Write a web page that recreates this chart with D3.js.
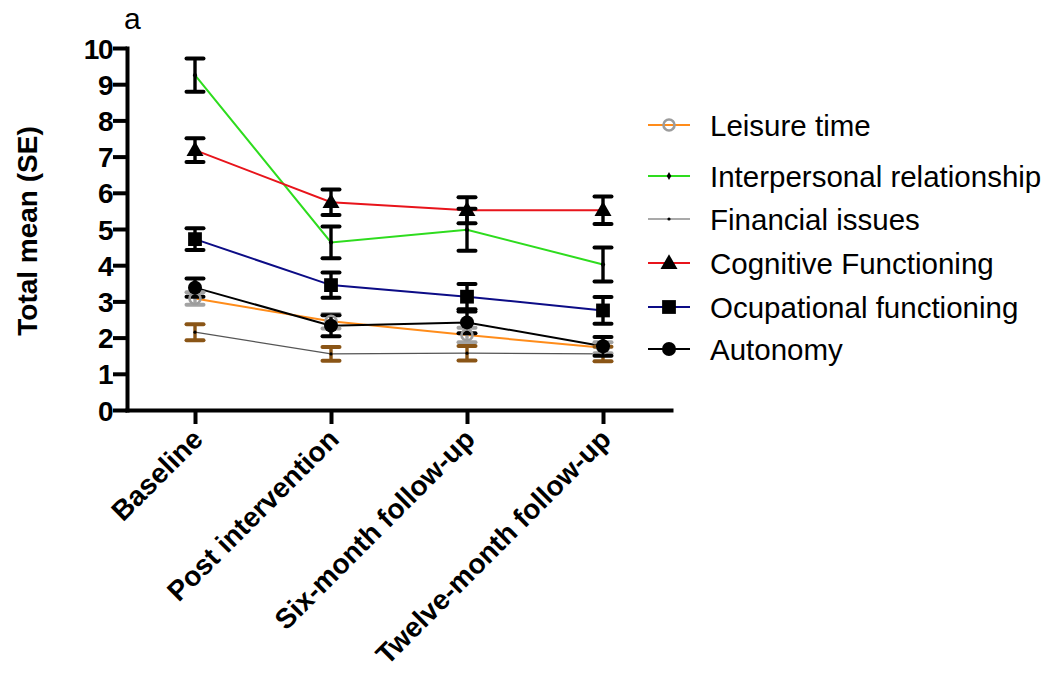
<!DOCTYPE html>
<html>
<head>
<meta charset="utf-8">
<script src="https://cdn.jsdelivr.net/npm/d3@7"></script>
<style>
  body { margin: 0; background: #fff; }
  text { font-family: "Liberation Sans", Arial, sans-serif; }
</style>
</head>
<body>
<svg id="chart" width="1053" height="677"></svg>
<script>
// ---- data ----
var categories = ["Baseline", "Post intervention", "Six-month follow-up", "Twelve-month follow-up"];
var yTicks = [0, 1, 2, 3, 4, 5, 6, 7, 8, 9, 10];

var seriesNames = ["Leisure time", "Interpersonal relationship", "Financial issues",
                   "Cognitive Functioning", "Ocupational functioning", "Autonomy"];

var leisureMean  = [3.08, 2.45, 2.07, 1.72];
var leisureSE    = [0.17, 0.20, 0.20, 0.15];
var interMean    = [9.25, 4.63, 4.98, 4.02];
var interSE      = [0.46, 0.44, 0.58, 0.47];
var financeMean  = [2.15, 1.55, 1.57, 1.55];
var financeSE    = [0.22, 0.19, 0.20, 0.20];
var cogMean      = [7.18, 5.74, 5.52, 5.52];
var cogSE        = [0.33, 0.35, 0.36, 0.38];
var occMean      = [4.72, 3.45, 3.13, 2.75];
var occSE        = [0.30, 0.35, 0.35, 0.37];
var autMean      = [3.38, 2.33, 2.42, 1.76];
var autSE        = [0.25, 0.29, 0.30, 0.26];

// styling per series
var styles = [
  {line: "#ff8c1a", width: 2,   err: "#a3a3a3", marker: "openCircle"},
  {line: "#2edc1e", width: 2,   err: "#000",    marker: "diamond"},
  {line: "#555",    width: 1.2, err: "#8a5516", marker: "dot"},
  {line: "#e8141b", width: 2,   err: "#000",    marker: "triangle"},
  {line: "#0c0c86", width: 2,   err: "#000",    marker: "square"},
  {line: "#000",    width: 2,   err: "#000",    marker: "circle"}
];

var means = [leisureMean, interMean, financeMean, cogMean, occMean, autMean];
var ses   = [leisureSE, interSE, financeSE, cogSE, occSE, autSE];

var series = seriesNames.map(function(name, i) {
  return {
    name: name, style: styles[i],
    values: categories.map(function(c, j) { return {cat: c, mean: means[i][j], se: ses[i][j]}; })
  };
});

// ---- layout ----
var svg = d3.select("#chart");
var x = d3.scalePoint().domain(categories).range([127, 671]).padding(0.5);
var y = d3.scaleLinear().domain([0, 10]).range([410, 48]);

// y axis
var yAxis = svg.append("g")
  .attr("transform", "translate(127,0)")
  .call(d3.axisLeft(y).tickValues(yTicks).tickSize(14).tickSizeOuter(0).tickPadding(1));
yAxis.select(".domain").attr("stroke-width", 4).attr("stroke-linecap", "square");
yAxis.selectAll(".tick line").attr("stroke-width", 4);
yAxis.selectAll(".tick text")
  .attr("font-size", 28).attr("font-weight", "bold").attr("fill", "#000")
  .attr("dy", "0.36em").style("letter-spacing", "-1.5px");

// x axis
var xAxis = svg.append("g")
  .attr("transform", "translate(0,410)")
  .call(d3.axisBottom(x).tickSize(14).tickSizeOuter(0));
xAxis.select(".domain").attr("stroke-width", 4).attr("stroke-linecap", "square");
xAxis.selectAll(".tick line").attr("stroke-width", 4);
xAxis.selectAll(".tick text").remove();
xAxis.selectAll(".tick").append("text")
  .attr("transform", "translate(9,31) rotate(-45)")
  .attr("text-anchor", "end")
  .attr("font-size", 28).attr("font-weight", "bold").attr("fill", "#000")
  .text(function(d) { return d; });

// y title
svg.append("text")
  .attr("transform", "translate(37,231) rotate(-90)")
  .attr("text-anchor", "middle")
  .attr("font-size", 28).attr("font-weight", "bold")
  .text("Total mean (SE)");

// panel letter
svg.append("text").attr("x", 124).attr("y", 29).attr("font-size", 30).text("a");

// ---- lines ----
var line = d3.line().x(function(d) { return x(d.cat); }).y(function(d) { return y(d.mean); });
svg.append("g").selectAll("path").data(series).join("path")
  .attr("d", function(s) { return line(s.values); })
  .attr("fill", "none")
  .attr("stroke", function(s) { return s.style.line; })
  .attr("stroke-width", function(s) { return s.style.width; });

// ---- error bars ----
var capW = 8.5;
series.forEach(function(s) {
  var g = svg.append("g").attr("stroke", s.style.err).attr("stroke-width", 3.4).attr("fill", "none");
  s.values.forEach(function(d) {
    var cx = x(d.cat), top = y(d.mean + d.se), bot = y(d.mean - d.se);
    g.append("line").attr("x1", cx).attr("x2", cx).attr("y1", top).attr("y2", bot);
    g.append("line").attr("x1", cx - capW).attr("x2", cx + capW).attr("y1", top).attr("y2", top)
      .attr("stroke-width", 4).attr("stroke-linecap", "round");
    g.append("line").attr("x1", cx - capW).attr("x2", cx + capW).attr("y1", bot).attr("y2", bot)
      .attr("stroke-width", 4).attr("stroke-linecap", "round");
  });
});

// ---- markers ----
function drawMarker(g, type, cx, cy) {
  if (type === "openCircle") {
    g.append("circle").attr("cx", cx).attr("cy", cy).attr("r", 5.5)
      .attr("fill", "none").attr("stroke", "#9c9c9c").attr("stroke-width", 2.6);
  } else if (type === "diamond") {
    g.append("path").attr("transform", "translate(" + cx + "," + cy + ")")
      .attr("d", d3.symbol(d3.symbolDiamond, 18)()).attr("fill", "#000");
  } else if (type === "dot") {
    g.append("circle").attr("cx", cx).attr("cy", cy).attr("r", 1.6).attr("fill", "#000");
  } else if (type === "triangle") {
    g.append("path").attr("transform", "translate(" + cx + "," + (cy + 1) + ")")
      .attr("d", d3.symbol(d3.symbolTriangle, 125)()).attr("fill", "#000");
  } else if (type === "square") {
    g.append("path").attr("transform", "translate(" + cx + "," + cy + ")")
      .attr("d", d3.symbol(d3.symbolSquare, 190)()).attr("fill", "#000");
  } else if (type === "circle") {
    g.append("circle").attr("cx", cx).attr("cy", cy).attr("r", 7).attr("fill", "#000");
  }
}

series.forEach(function(s) {
  var g = svg.append("g");
  s.values.forEach(function(d) { drawMarker(g, s.style.marker, x(d.cat), y(d.mean)); });
});

// ---- legend ----
var legendY = [125, 176, 219, 263, 307, 349];
var legend = svg.append("g");
series.forEach(function(s, i) {
  var ly = legendY[i];
  legend.append("line").attr("x1", 648).attr("x2", 690).attr("y1", ly).attr("y2", ly)
    .attr("stroke", s.style.line).attr("stroke-width", s.style.width);
  drawMarker(legend, s.style.marker, 669, ly);
  legend.append("text").attr("x", 710).attr("y", ly).attr("dy", "0.36em")
    .attr("font-size", 29.5).attr("fill", "#000").text(s.name);
});
</script>
</body>
</html>
